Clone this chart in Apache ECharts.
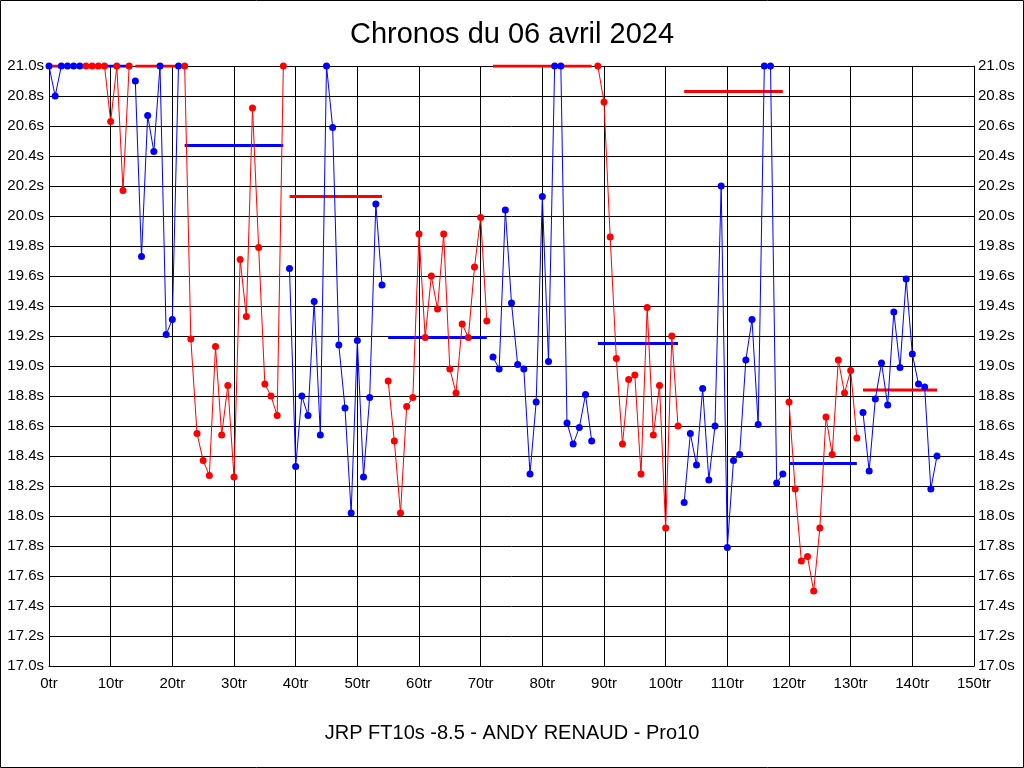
<!DOCTYPE html>
<html>
<head>
<meta charset="utf-8">
<script src="https://cdn.jsdelivr.net/npm/echarts@6/dist/echarts.min.js"></script>
<style>
html,body{margin:0;padding:0;background:#fff;}
#chart{width:1024px;height:768px;}
</style>
</head>
<body>
<div id="chart"></div>
<script>
// Lap times (seconds), lap index = array index (0..144)
var lapTimes = [
  21.0, 20.8, 21.0, 21.0, 21.0, 21.0, 21.0, 21.0, 21.0, 21.0,
  20.63, 21.0, 20.17, 21.0, 20.9, 19.73, 20.67, 20.43, 21.0, 19.21,
  19.31, 21.0, 21.0, 19.18, 18.55, 18.37, 18.27, 19.13, 18.54, 18.87,
  18.26, 19.71, 19.33, 20.72, 19.79, 18.88, 18.80, 18.67, 21.0, 19.65,
  18.33, 18.80, 18.67, 19.43, 18.54, 21.0, 20.59, 19.14, 18.72, 18.02,
  19.17, 18.26, 18.79, 20.08, 19.54, 18.90, 18.50, 18.02, 18.73, 18.79,
  19.88, 19.19, 19.60, 19.38, 19.88, 18.98, 18.82, 19.28, 19.19, 19.66,
  19.99, 19.30, 19.06, 18.98, 20.04, 19.42, 19.01, 18.98, 18.28, 18.76,
  20.13, 19.03, 21.0, 21.0, 18.62, 18.48, 18.59, 18.81, 18.50, 21.0,
  20.76, 19.86, 19.05, 18.48, 18.91, 18.94, 18.28, 19.39, 18.54, 18.87,
  17.92, 19.20, 18.60, 18.09, 18.55, 18.34, 18.85, 18.24, 18.60, 20.20,
  17.79, 18.37, 18.41, 19.04, 19.31, 18.61, 21.0, 21.0, 18.22, 18.28,
  18.76, 18.18, 17.70, 17.73, 17.50, 17.92, 18.66, 18.41, 19.04, 18.82,
  18.97, 18.52, 18.69, 18.30, 18.78, 19.02, 18.74, 19.36, 18.99, 19.58,
  19.08, 18.88, 18.86, 18.18, 18.40
];
// First lap of each colored run
var segmentStarts = [0, 6, 14, 22, 39, 55, 72, 89, 103, 120, 132];
var segmentColors = ['#0000FF', '#FF0000'];

// Reference (average) lines
var avgStart = [0, 9, 14, 22, 39, 55, 72, 89, 103, 120, 132];
var avgEnd   = [9, 13, 22, 38, 54, 71, 88, 102, 119, 131, 144];
var avgValue = [21.0, 21.0, 21.0, 20.47, 20.13, 19.19, 21.0, 19.15, 20.83, 18.35, 18.84];
var avgColors = ['#FF0000', '#0000FF'];

// Axis tick settings
var xMin = 0, xMax = 150, xStep = 10, xSuffix = 'tr';
var yMin = 17.0, yMax = 21.0, yStep = 0.2, ySuffix = 's';

var titleText = 'Chronos du 06 avril 2024';
var footerText = 'JRP FT10s -8.5 - ANDY RENAUD - Pro10';

var FONT = '"Liberation Sans", Arial, sans-serif';
var series = [];

avgStart.forEach(function (s, i) {
  series.push({
    type: 'line',
    data: [[s, avgValue[i]], [avgEnd[i], avgValue[i]]],
    symbol: 'none',
    lineStyle: { color: avgColors[i % 2], width: 3 },
    z: 2,
    silent: true,
    animation: false
  });
});

segmentStarts.forEach(function (start, k) {
  var end = (k + 1 < segmentStarts.length) ? segmentStarts[k + 1] - 1 : lapTimes.length - 1;
  var pts = [];
  for (var i = start; i <= end; i++) pts.push([i, lapTimes[i]]);
  var c = segmentColors[k % 2];
  series.push({
    type: 'line',
    data: pts,
    symbol: 'circle',
    symbolSize: 7,
    showAllSymbol: true,
    itemStyle: { color: c, borderWidth: 0 },
    lineStyle: { color: c, width: 1 },
    z: 3,
    animation: false
  });
});

var chart = echarts.init(document.getElementById('chart'), null, { renderer: 'canvas' });
var yAxisCommon = {
  type: 'value',
  min: yMin, max: yMax, interval: yStep,
  axisLine: { show: true, lineStyle: { color: '#000', width: 1 } },
  axisTick: { show: false },
  axisLabel: {
    color: '#000', fontSize: 15, fontFamily: FONT,
    formatter: function (v) { return v.toFixed(1) + ySuffix; }
  }
};
chart.setOption({
  backgroundColor: '#fff',
  animation: false,
  grid: { left: 49, top: 66, width: 925, height: 600, containLabel: false },
  xAxis: {
    type: 'value',
    min: xMin, max: xMax, interval: xStep,
    axisLine: { show: true, onZero: false, lineStyle: { color: '#000', width: 1 } },
    axisTick: { show: false },
    splitLine: { show: true, lineStyle: { color: '#000', width: 1 } },
    axisLabel: {
      color: '#000', fontSize: 15, fontFamily: FONT, margin: 10,
      formatter: function (v) { return v + xSuffix; }
    }
  },
  yAxis: [
    Object.assign({}, yAxisCommon, {
      position: 'left',
      splitLine: { show: true, lineStyle: { color: '#000', width: 1 } },
      axisLabel: Object.assign({}, yAxisCommon.axisLabel, { margin: 5 })
    }),
    Object.assign({}, yAxisCommon, {
      position: 'right',
      splitLine: { show: false },
      axisLabel: Object.assign({}, yAxisCommon.axisLabel, { margin: 4 })
    })
  ],
  graphic: [
    {
      type: 'rect', silent: true, z: 100,
      shape: { x: 0.5, y: 0.5, width: 1023, height: 767 },
      style: { fill: null, stroke: '#000', lineWidth: 1 }
    },
    {
      type: 'text', x: 512, y: 35, silent: true,
      style: { text: titleText, fill: '#000', font: '29px ' + FONT, textAlign: 'center', textVerticalAlign: 'middle' }
    },
    {
      type: 'text', x: 512, y: 733, silent: true,
      style: { text: footerText, fill: '#000', font: '20px ' + FONT, textAlign: 'center', textVerticalAlign: 'middle' }
    }
  ],
  series: series
});
</script>
</body>
</html>
